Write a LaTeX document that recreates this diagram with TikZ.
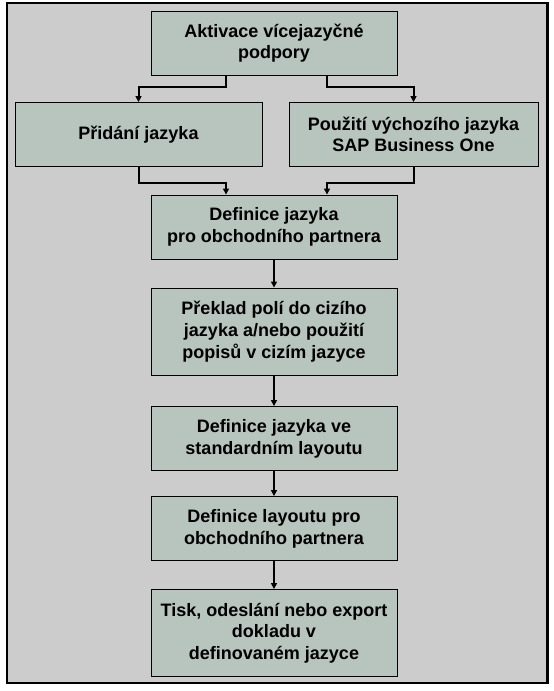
\documentclass[tikz,border=0pt]{standalone}
\usepackage{fontspec}
\setmainfont{Liberation Sans}
\usepackage{tikz}
\usetikzlibrary{arrows.meta, positioning, calc}
\usepackage{xcolor}
\definecolor{framegray}{HTML}{CCCCCC}
\definecolor{boxgreen}{HTML}{B8C4BE}

\begin{document}
\begin{tikzpicture}[x=1pt, y=-1pt,
    stepbox/.style={draw, line width=0.9pt, fill=boxgreen, align=center,
      minimum width=246pt, minimum height=64pt, inner sep=0pt,
      font=\fontsize{18}{21.7}\selectfont\bfseries},
    tallbox/.style={stepbox, minimum height=87pt},
    flow/.style={-{Triangle[length=6pt, width=6pt]}, line width=2pt}]
  \useasboundingbox (0, 0) rectangle (554, 691);

  % Frame
  \draw[line width=2.5pt, fill=framegray] (7, 3) rectangle (547.5, 683);

  % Steps
  \node[stepbox] (activate) at (274, 43) {Aktivace vícejazyčné\\podpory};
  \node[stepbox, minimum width=247pt] (addlang) at (138.5, 134.5)
    {Přidání jazyka};
  \node[stepbox, minimum width=249pt] (deflang) at (413.5, 134.5)
    {Použití výchozího jazyka\\SAP Business One};
  \node[stepbox] (bplang) at (274, 227)
    {Definice jazyka\\pro obchodního partnera};
  \node[tallbox] (translate) at (274, 331.5)
    {Překlad polí do cizího\\jazyka a/nebo použití\\popisů v cizím jazyce};
  \node[stepbox] (stdlayout) at (274, 438.5)
    {Definice jazyka ve\\standardním layoutu};
  \node[stepbox] (bplayout) at (274, 528.5)
    {Definice layoutu pro\\obchodního partnera};
  \node[tallbox] (output) at (274, 633)
    {Tisk, odeslání nebo export\\dokladu v\\definovaném jazyce};

  % Branches
  \draw[flow] ([xshift=-48pt]activate.south) -- ++(0, 12) -| (addlang.north);
  \draw[flow] ([xshift=53pt]activate.south) -- ++(0, 12) -| (deflang.north);
  \draw[flow] (addlang.south) -- ++(0, 16) -| ([xshift=-48pt]bplang.north);
  \draw[flow] (deflang.south) -- ++(0, 16) -| ([xshift=53pt]bplang.north);

  % Main line
  \draw[flow] (bplang.south) -- (translate.north);
  \draw[flow] (translate.south) -- (stdlayout.north);
  \draw[flow] (stdlayout.south) -- (bplayout.north);
  \draw[flow] (bplayout.south) -- (output.north);
\end{tikzpicture}
\end{document}
